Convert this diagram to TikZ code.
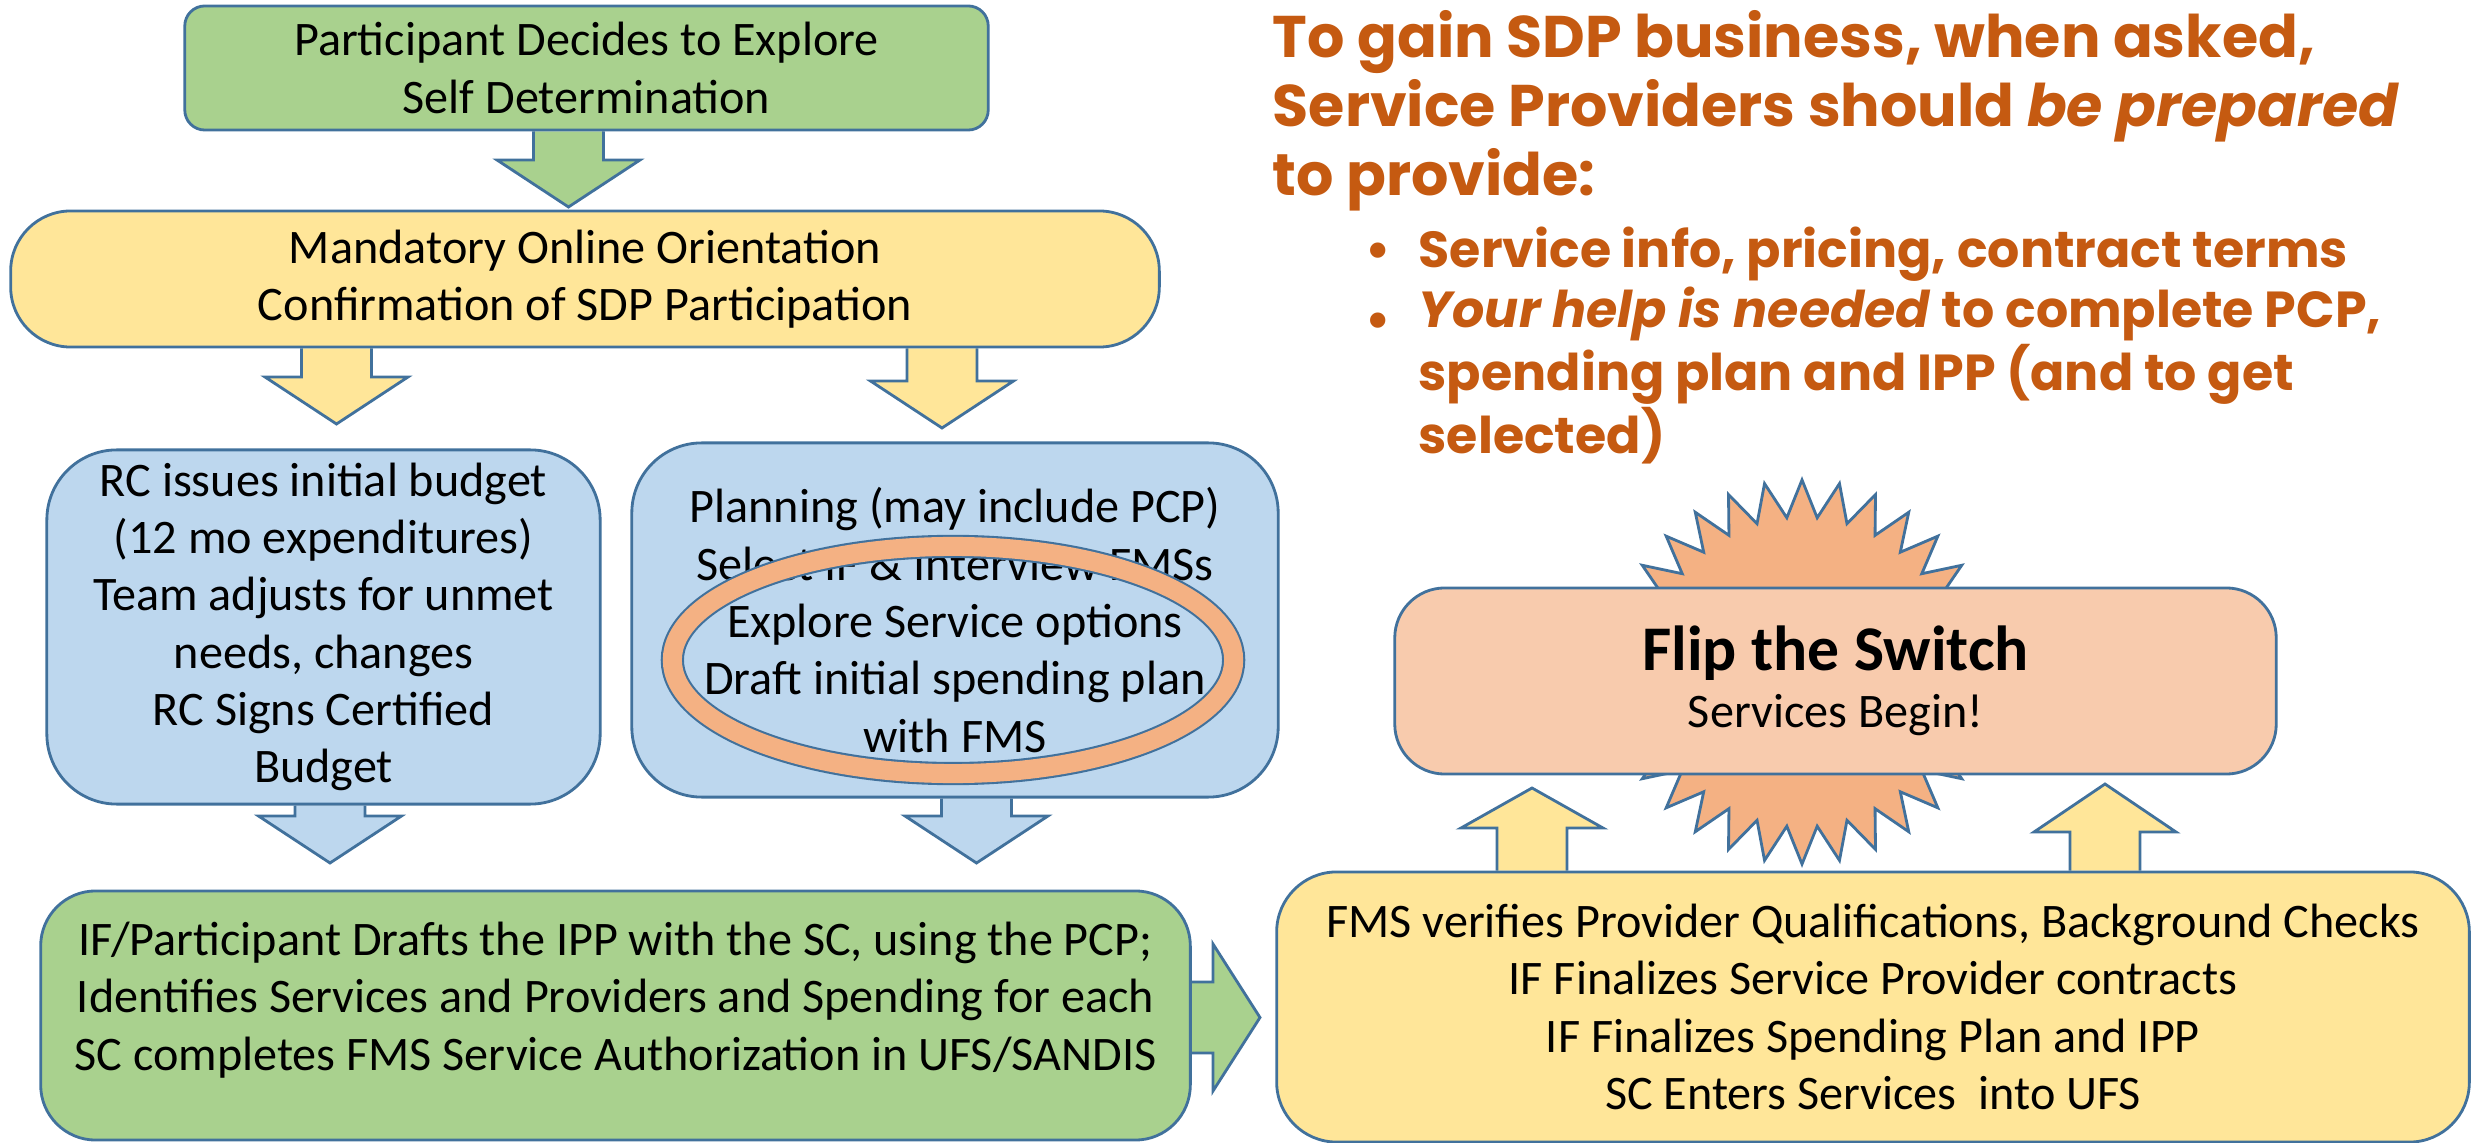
\documentclass[tikz,border=0pt]{standalone}
\usepackage{fontspec}
\setmainfont{Carlito}
\newfontfamily\gothic{Poppins}
\usetikzlibrary{shapes.geometric,backgrounds}

\definecolor{boxgreen}{HTML}{A9D18E}
\definecolor{boxyellow}{HTML}{FFE699}
\definecolor{boxblue}{HTML}{BDD7EE}
\definecolor{boxpeach}{HTML}{F8CBAD}
\definecolor{burstorange}{HTML}{F4B183}
\definecolor{edge}{HTML}{41719C}
\definecolor{asktitle}{HTML}{C55A11}

\tikzset{
  box/.style={draw=edge, line width=0.8pt, align=center, inner sep=0pt,
    font=\fontsize{13.7}{16.3}\selectfont},
  greenbox/.style={box, fill=boxgreen, rounded corners=0.2cm},
  yellowbox/.style={box, fill=boxyellow, rounded corners=0.6cm},
  bluebox/.style={box, fill=boxblue, rounded corners=0.7cm},
  peachbox/.style={box, fill=boxpeach, rounded corners=0.5cm},
  blockarrow/.style={draw=edge, line width=0.8pt, line join=miter},
  ring/.style={ellipse, draw=edge, line width=0.6pt, double=burstorange,
    double distance=0.19cm, minimum width=5.61cm, minimum height=2.27cm},
  burst/.style={star, star points=32, star point ratio=1.24, draw=edge,
    fill=burstorange, line width=0.8pt, minimum size=3.84cm, inner sep=0pt},
  asktext/.style={text=asktitle, align=left, inner sep=0pt,
    font=\gothic\bfseries\fontsize{16.7}{19.7}\selectfont},
  pointtext/.style={text=asktitle, align=left, inner sep=0pt,
    font=\gothic\bfseries\fontsize{14.4}{16.3}\selectfont}
}

\begin{document}
\begin{tikzpicture}[x=0.01cm, y=-0.01cm]
  \useasboundingbox (0,0) rectangle (2478,1143);

  % left column
  \node[greenbox, minimum width=8.03cm, minimum height=1.24cm] (explore) at (586.5,68)
    {Participant Decides to Explore\\Self Determination};
  \node[yellowbox, minimum width=11.48cm, minimum height=1.36cm] (orient) at (585,279)
    {Mandatory Online Orientation\\Confirmation of SDP Participation};
  \node[bluebox, minimum width=5.53cm, minimum height=3.54cm] (rcbudget) at (323.5,627)
    {RC issues initial budget\\(12 mo expenditures)\\Team adjusts for unmet\\needs, changes\\RC Signs Certified\\Budget};
  \node[bluebox, minimum width=6.46cm, minimum height=3.54cm] (planning) at (955,620)
    {Planning (may include PCP)\\Select IF \& Interview FMSs\\Explore Service options\\Draft initial spending plan\\with FMS};
  \node[ring] (focus) at (953,660) {};
  \node[greenbox, rounded corners=0.55cm, minimum width=11.49cm, minimum height=2.49cm,
    text depth=11pt] (ippdraft) at (615.5,1015.5)
    {IF/Participant Drafts the IPP with the SC, using the PCP;\\Identifies Services and Providers and Spending for each\\SC completes FMS Service Authorization in UFS/SANDIS};

  % right side
  \node[burst] (flash) at (1802,672) {};
  \node[peachbox, minimum width=8.81cm, minimum height=1.86cm] (switch) at (1835.5,681)
    {{\bfseries\fontsize{18.1}{18.1}\selectfont Flip the Switch}\\Services Begin!};
  \node[yellowbox, minimum width=11.92cm, minimum height=2.70cm] (fms) at (1873,1007)
    {FMS verifies Provider Qualifications, Background Checks\\IF Finalizes Service Provider contracts\\IF Finalizes Spending Plan and IPP\\SC Enters Services~ into UFS};

  % block arrows
  \begin{scope}[on background layer]
    \foreach \src/\x/\tip/\col in {explore/568.5/207/boxgreen, orient/336.5/424/boxyellow,
        orient/942/428/boxyellow, rcbudget/330/863/boxblue, planning/976.5/863/boxblue}
      \filldraw[blockarrow, fill=\col] (\x-35,0 |- \src.south) -- (\x-35,\tip-47)
        -- (\x-71.5,\tip-47) -- (\x,\tip) -- (\x+71.5,\tip-47) -- (\x+35,\tip-47)
        -- (\x+35,0 |- \src.south);
    \foreach \x/\tip/\base in {1532/788/828, 2105/784/832}
      \filldraw[blockarrow, fill=boxyellow] (\x-35,0 |- fms.north) -- (\x-35,\base)
        -- (\x-71,\base) -- (\x,\tip) -- (\x+71,\base) -- (\x+35,\base)
        -- (\x+35,0 |- fms.north);
    \filldraw[blockarrow, fill=boxgreen] (0,982 -| ippdraft.east) -- (1213,982)
      -- (1213,944) -- (1260,1017.5) -- (1213,1091) -- (1213,1053)
      -- (0,1053 -| ippdraft.east);
  \end{scope}

  % what providers should bring
  \node[asktext, anchor=base west] (ask) at (1272,196)
    {To gain SDP business, when asked,\\Service Providers should \textit{be prepared}\\to provide:};
  \node[pointtext, anchor=base west] (info) at (1418,268) {Service info, pricing, contract terms};
  \node[pointtext, anchor=base west] (help) at (1418,454)
    {\textit{Your help is needed} to complete PCP,\\spending plan and IPP (and to get\\selected)};
  \foreach \y in {268,338}
    \node[pointtext, anchor=base] at (1378,\y) {\textbullet};
\end{tikzpicture}
\end{document}
